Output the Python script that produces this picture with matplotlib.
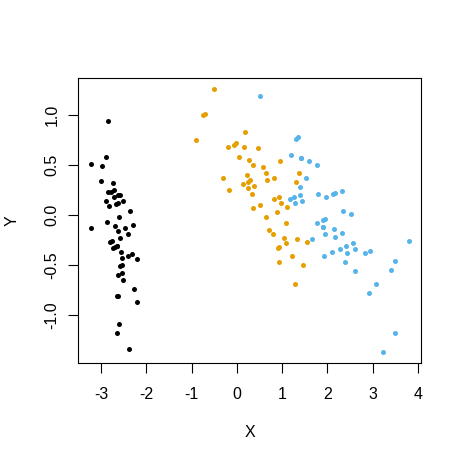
import numpy as np
import matplotlib
matplotlib.use("Agg")
import matplotlib.pyplot as plt

# group scores
setosa_x = [-2.684, -2.714, -2.889, -2.745, -2.729, -2.281, -2.821, -2.626,
            -2.886, -2.673, -2.507, -2.613, -2.786, -3.224, -2.645, -2.386,
            -2.624, -2.648, -2.200, -2.588, -2.310, -2.544, -3.216, -2.303,
            -2.356, -2.507, -2.469, -2.562, -2.640, -2.632, -2.587, -2.410,
            -2.649, -2.599, -2.637, -2.866, -2.625, -2.801, -2.981, -2.590,
            -2.770, -2.849, -2.997, -2.406, -2.209, -2.714, -2.538, -2.839,
            -2.543, -2.703]
setosa_y = [-0.319, 0.177, 0.145, 0.318, -0.327, -0.741, 0.089, -0.163,
            0.578, 0.114, -0.645, -0.015, 0.235, 0.511, -1.179, -1.338,
            -0.811, -0.312, -0.873, -0.514, -0.391, -0.433, -0.133, -0.099,
            0.037, 0.146, -0.131, -0.368, -0.312, 0.197, 0.204, -0.411,
            -0.813, -1.093, 0.121, -0.069, -0.599, -0.269, 0.488, -0.229,
            -0.264, 0.941, 0.342, -0.189, -0.437, 0.250, -0.504, 0.228,
            -0.579, -0.108]

versicolor_x = [1.285, 0.932, 1.464, 0.183, 1.088, 0.642, 1.095, -0.749,
                1.044, -0.009, -0.508, 0.512, 0.265, 0.985, -0.174, 0.928,
                0.660, 0.236, 0.945, 0.045, 1.116, 0.358, 1.298, 0.922,
                0.715, 0.900, 1.332, 1.558, 0.813, -0.306, -0.068, -0.190,
                0.136, 1.380, 0.588, 0.807, 1.221, 0.815, 0.246, 0.166,
                0.465, 0.891, 0.231, -0.705, 0.357, 0.332, 0.376, 0.643,
                -0.906, 0.299]
versicolor_y = [-0.685, -0.318, -0.504, 0.828, -0.075, 0.418, -0.283, 1.005,
                -0.228, 0.723, 1.266, 0.104, 0.550, 0.125, 0.255, -0.467,
                0.353, 0.334, 0.543, 0.584, 0.085, 0.069, 0.328, 0.183,
                -0.149, -0.329, -0.244, -0.267, 0.163, 0.368, 0.705, 0.680,
                0.314, 0.421, 0.484, -0.194, -0.408, 0.372, 0.269, 0.682,
                0.671, 0.034, 0.404, 1.012, 0.505, 0.213, 0.293, -0.018,
                0.756, 0.349]

virginica_x = [2.531, 1.415, 2.617, 1.972, 2.350, 3.397, 0.521, 2.933,
               2.321, 2.917, 1.662, 1.803, 2.166, 1.346, 1.586, 1.904,
               1.950, 3.487, 3.796, 1.301, 2.428, 1.199, 3.500, 1.389,
               2.275, 2.614, 1.259, 1.291, 2.124, 2.388, 2.842, 3.231,
               2.159, 1.444, 1.781, 3.076, 2.144, 1.905, 1.169, 2.108,
               2.314, 1.922, 1.415, 2.563, 2.419, 1.944, 1.527, 1.764,
               1.901, 1.390]
virginica_y = [0.010, 0.575, -0.344, 0.180, 0.040, -0.551, 1.193, -0.356,
               0.244, -0.783, -0.242, 0.216, -0.216, 0.777, 0.540, -0.119,
               -0.042, -1.176, -0.257, 0.761, -0.378, 0.606, -0.461, 0.204,
               -0.335, -0.561, 0.180, 0.117, 0.210, -0.465, -0.375, -1.374,
               0.217, 0.143, 0.500, -0.688, -0.140, -0.049, 0.165, -0.372,
               -0.184, -0.409, 0.575, -0.278, -0.305, -0.188, 0.375, -0.079,
               -0.117, 0.283]

x_ticks = [-3, -2, -1, 0, 1, 2, 3, 4]
y_ticks = [-1.0, -0.5, 0.0, 0.5, 1.0]

W, H = 462, 461
FS = 11.5


def r_limits(*series, ext=0.04):
    vals = np.concatenate([np.asarray(s) for s in series])
    lo, hi = vals.min(), vals.max()
    pad = (hi - lo) * ext
    return lo - pad, hi + pad


plt.rcParams["font.family"] = ["Liberation Sans", "DejaVu Sans"]

fig = plt.figure(figsize=(W / 100, H / 100), dpi=100)
ax = fig.add_axes([78.3 / W, 1 - 363 / H, (421.3 - 78.3) / W, (363 - 78) / H])

groups = [(setosa_x, setosa_y, "#000000"),
          (versicolor_x, versicolor_y, "#E69F00"),
          (virginica_x, virginica_y, "#56B4E9")]
for gx, gy, col in groups:
    ax.plot(gx, gy, "o", color=col, markersize=3.6, markeredgewidth=0)

ax.set_xlim(r_limits(setosa_x, versicolor_x, virginica_x))
ax.set_ylim(r_limits(setosa_y, versicolor_y, virginica_y))

ax.set_xticks(x_ticks)
ax.set_xticklabels([str(t) for t in x_ticks])
ax.set_yticks(y_ticks)
ax.set_yticklabels(["%.1f" % t for t in y_ticks], rotation=90, va="center")

ax.tick_params(axis="both", length=7, width=0.8, color="black",
               labelsize=FS, direction="out")
ax.tick_params(axis="x", pad=10)
ax.tick_params(axis="y", pad=6.5)
for sp in ax.spines.values():
    sp.set_linewidth(0.8)

fig.text(249.8 / W, 1 - 436.7 / H, "X", fontsize=FS, ha="center",
         va="baseline", rotation_mode="anchor")
fig.text(17 / W, 1 - 220.5 / H, "Y", fontsize=FS, ha="center",
         va="baseline", rotation=90, rotation_mode="anchor")

fig.savefig("out.png", dpi=100)
